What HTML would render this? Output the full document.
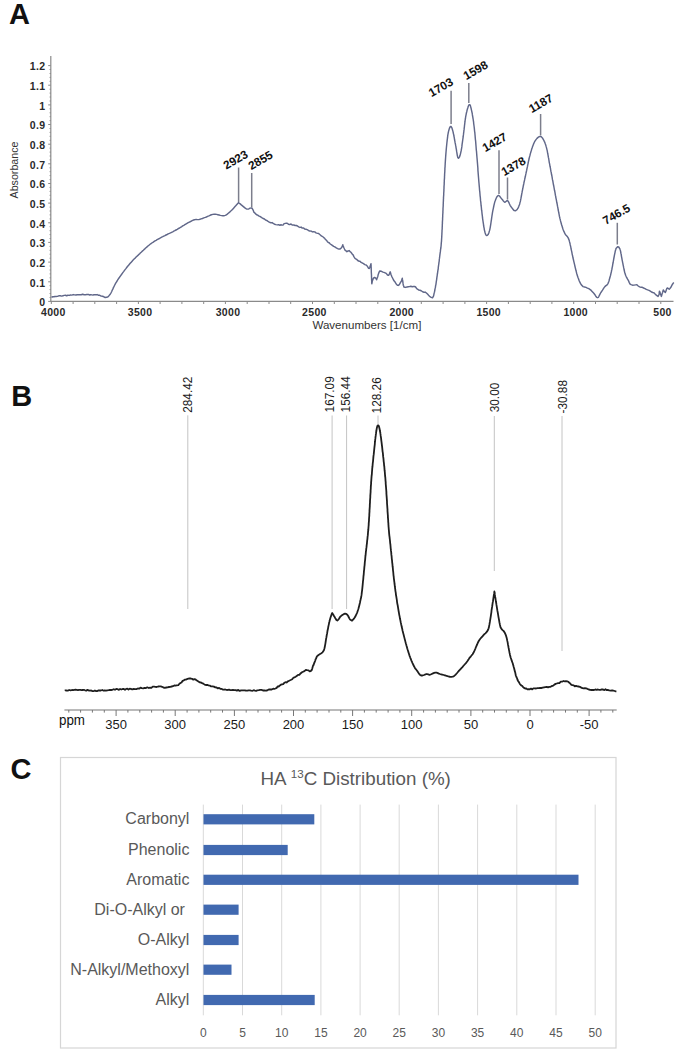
<!DOCTYPE html><html><head><meta charset="utf-8"><style>html,body{margin:0;padding:0;background:#fff;}svg{display:block;}text{font-family:"Liberation Sans",sans-serif;}</style></head><body>
<svg width="685" height="1057" viewBox="0 0 685 1057">
<rect width="685" height="1057" fill="#fff"/>
<text x="9" y="24.2" font-size="29" font-weight="bold" fill="#111">A</text>
<text x="11.2" y="406.3" font-size="29" font-weight="bold" fill="#111">B</text>
<text x="10.6" y="778.6" font-size="29" font-weight="bold" fill="#111">C</text>
<g stroke="#8a8a8a" stroke-width="1.2" fill="none">
<line x1="50.8" y1="56" x2="50.8" y2="301.8"/>
<line x1="50.2" y1="301.4" x2="673.5" y2="301.4"/>
</g>
<g stroke="#8a8a8a" stroke-width="1"><line x1="48.2" y1="301.4" x2="50.8" y2="301.4"/><line x1="49.6" y1="297.5" x2="50.8" y2="297.5"/><line x1="49.6" y1="293.5" x2="50.8" y2="293.5"/><line x1="49.6" y1="289.6" x2="50.8" y2="289.6"/><line x1="49.6" y1="285.7" x2="50.8" y2="285.7"/><line x1="48.2" y1="281.8" x2="50.8" y2="281.8"/><line x1="49.6" y1="277.8" x2="50.8" y2="277.8"/><line x1="49.6" y1="273.9" x2="50.8" y2="273.9"/><line x1="49.6" y1="270.0" x2="50.8" y2="270.0"/><line x1="49.6" y1="266.0" x2="50.8" y2="266.0"/><line x1="48.2" y1="262.1" x2="50.8" y2="262.1"/><line x1="49.6" y1="258.2" x2="50.8" y2="258.2"/><line x1="49.6" y1="254.2" x2="50.8" y2="254.2"/><line x1="49.6" y1="250.3" x2="50.8" y2="250.3"/><line x1="49.6" y1="246.4" x2="50.8" y2="246.4"/><line x1="48.2" y1="242.4" x2="50.8" y2="242.4"/><line x1="49.6" y1="238.5" x2="50.8" y2="238.5"/><line x1="49.6" y1="234.6" x2="50.8" y2="234.6"/><line x1="49.6" y1="230.7" x2="50.8" y2="230.7"/><line x1="49.6" y1="226.7" x2="50.8" y2="226.7"/><line x1="48.2" y1="222.8" x2="50.8" y2="222.8"/><line x1="49.6" y1="218.9" x2="50.8" y2="218.9"/><line x1="49.6" y1="214.9" x2="50.8" y2="214.9"/><line x1="49.6" y1="211.0" x2="50.8" y2="211.0"/><line x1="49.6" y1="207.1" x2="50.8" y2="207.1"/><line x1="48.2" y1="203.1" x2="50.8" y2="203.1"/><line x1="49.6" y1="199.2" x2="50.8" y2="199.2"/><line x1="49.6" y1="195.3" x2="50.8" y2="195.3"/><line x1="49.6" y1="191.4" x2="50.8" y2="191.4"/><line x1="49.6" y1="187.4" x2="50.8" y2="187.4"/><line x1="48.2" y1="183.5" x2="50.8" y2="183.5"/><line x1="49.6" y1="179.6" x2="50.8" y2="179.6"/><line x1="49.6" y1="175.6" x2="50.8" y2="175.6"/><line x1="49.6" y1="171.7" x2="50.8" y2="171.7"/><line x1="49.6" y1="167.8" x2="50.8" y2="167.8"/><line x1="48.2" y1="163.8" x2="50.8" y2="163.8"/><line x1="49.6" y1="159.9" x2="50.8" y2="159.9"/><line x1="49.6" y1="156.0" x2="50.8" y2="156.0"/><line x1="49.6" y1="152.1" x2="50.8" y2="152.1"/><line x1="49.6" y1="148.1" x2="50.8" y2="148.1"/><line x1="48.2" y1="144.2" x2="50.8" y2="144.2"/><line x1="49.6" y1="140.3" x2="50.8" y2="140.3"/><line x1="49.6" y1="136.3" x2="50.8" y2="136.3"/><line x1="49.6" y1="132.4" x2="50.8" y2="132.4"/><line x1="49.6" y1="128.5" x2="50.8" y2="128.5"/><line x1="48.2" y1="124.5" x2="50.8" y2="124.5"/><line x1="49.6" y1="120.6" x2="50.8" y2="120.6"/><line x1="49.6" y1="116.7" x2="50.8" y2="116.7"/><line x1="49.6" y1="112.8" x2="50.8" y2="112.8"/><line x1="49.6" y1="108.8" x2="50.8" y2="108.8"/><line x1="48.2" y1="104.9" x2="50.8" y2="104.9"/><line x1="49.6" y1="101.0" x2="50.8" y2="101.0"/><line x1="49.6" y1="97.0" x2="50.8" y2="97.0"/><line x1="49.6" y1="93.1" x2="50.8" y2="93.1"/><line x1="49.6" y1="89.2" x2="50.8" y2="89.2"/><line x1="48.2" y1="85.2" x2="50.8" y2="85.2"/><line x1="49.6" y1="81.3" x2="50.8" y2="81.3"/><line x1="49.6" y1="77.4" x2="50.8" y2="77.4"/><line x1="49.6" y1="73.5" x2="50.8" y2="73.5"/><line x1="49.6" y1="69.5" x2="50.8" y2="69.5"/><line x1="48.2" y1="65.6" x2="50.8" y2="65.6"/></g>
<g stroke="#8a8a8a" stroke-width="1"><line x1="51.3" y1="301.4" x2="51.3" y2="304"/><line x1="73.1" y1="301.4" x2="73.1" y2="304"/><line x1="94.8" y1="301.4" x2="94.8" y2="304"/><line x1="116.6" y1="301.4" x2="116.6" y2="304"/><line x1="138.4" y1="301.4" x2="138.4" y2="304"/><line x1="160.1" y1="301.4" x2="160.1" y2="304"/><line x1="181.9" y1="301.4" x2="181.9" y2="304"/><line x1="203.7" y1="301.4" x2="203.7" y2="304"/><line x1="225.4" y1="301.4" x2="225.4" y2="304"/><line x1="247.2" y1="301.4" x2="247.2" y2="304"/><line x1="269.0" y1="301.4" x2="269.0" y2="304"/><line x1="290.7" y1="301.4" x2="290.7" y2="304"/><line x1="312.5" y1="301.4" x2="312.5" y2="304"/><line x1="334.3" y1="301.4" x2="334.3" y2="304"/><line x1="356.0" y1="301.4" x2="356.0" y2="304"/><line x1="377.8" y1="301.4" x2="377.8" y2="304"/><line x1="399.6" y1="301.4" x2="399.6" y2="304"/><line x1="421.3" y1="301.4" x2="421.3" y2="304"/><line x1="443.1" y1="301.4" x2="443.1" y2="304"/><line x1="464.9" y1="301.4" x2="464.9" y2="304"/><line x1="486.6" y1="301.4" x2="486.6" y2="304"/><line x1="508.4" y1="301.4" x2="508.4" y2="304"/><line x1="530.2" y1="301.4" x2="530.2" y2="304"/><line x1="551.9" y1="301.4" x2="551.9" y2="304"/><line x1="573.7" y1="301.4" x2="573.7" y2="304"/><line x1="595.5" y1="301.4" x2="595.5" y2="304"/><line x1="617.2" y1="301.4" x2="617.2" y2="304"/><line x1="639.0" y1="301.4" x2="639.0" y2="304"/><line x1="660.8" y1="301.4" x2="660.8" y2="304"/></g>
<g font-size="10.5" font-weight="bold" fill="#2a2a2a"><text x="45.6" y="306.2" text-anchor="end" letter-spacing="0.4">0</text><text x="45.6" y="286.6" text-anchor="end" letter-spacing="0.4">0.1</text><text x="45.6" y="266.9" text-anchor="end" letter-spacing="0.4">0.2</text><text x="45.6" y="247.2" text-anchor="end" letter-spacing="0.4">0.3</text><text x="45.6" y="227.6" text-anchor="end" letter-spacing="0.4">0.4</text><text x="45.6" y="207.9" text-anchor="end" letter-spacing="0.4">0.5</text><text x="45.6" y="188.3" text-anchor="end" letter-spacing="0.4">0.6</text><text x="45.6" y="168.7" text-anchor="end" letter-spacing="0.4">0.7</text><text x="45.6" y="149.0" text-anchor="end" letter-spacing="0.4">0.8</text><text x="45.6" y="129.3" text-anchor="end" letter-spacing="0.4">0.9</text><text x="45.6" y="109.7" text-anchor="end" letter-spacing="0.4">1</text><text x="45.6" y="90.0" text-anchor="end" letter-spacing="0.4">1.1</text><text x="45.6" y="70.4" text-anchor="end" letter-spacing="0.4">1.2</text></g>
<g font-size="10.5" font-weight="bold" fill="#2a2a2a"><text x="53.300000000000004" y="316" text-anchor="middle" letter-spacing="0.3">4000</text><text x="140.1" y="316" text-anchor="middle" letter-spacing="0.3">3500</text><text x="228.0" y="316" text-anchor="middle" letter-spacing="0.3">3000</text><text x="314.4" y="316" text-anchor="middle" letter-spacing="0.3">2500</text><text x="401.7" y="316" text-anchor="middle" letter-spacing="0.3">2000</text><text x="488.7" y="316" text-anchor="middle" letter-spacing="0.3">1500</text><text x="575.7" y="316" text-anchor="middle" letter-spacing="0.3">1000</text><text x="662.5" y="316" text-anchor="middle" letter-spacing="0.3">500</text></g>
<text x="366.9" y="328.5" font-size="10.6" fill="#333" text-anchor="middle" textLength="109" lengthAdjust="spacingAndGlyphs">Wavenumbers [1/cm]</text>
<text transform="translate(18,170) rotate(-90)" font-size="10.5" fill="#333" text-anchor="middle" textLength="57" lengthAdjust="spacingAndGlyphs">Absorbance</text>
<path d="M51.5,297.4 L52.2,297.0 L52.9,296.7 L53.9,296.8 L54.9,296.5 L56.1,296.5 L57.4,296.4 L58.8,295.8 L60.2,295.7 L61.6,296.1 L63.1,295.7 L64.2,295.4 L65.4,295.3 L66.6,295.7 L67.9,295.2 L69.2,295.4 L70.5,295.0 L71.9,295.1 L73.2,294.6 L74.6,294.9 L75.9,295.0 L77.2,294.7 L78.5,294.6 L79.8,294.7 L81.2,294.7 L82.6,294.3 L84.1,294.8 L85.5,294.7 L86.9,294.5 L88.3,294.4 L89.6,295.0 L90.8,294.7 L91.9,294.9 L92.9,295.1 L93.8,294.8 L96.1,294.8 L97.1,294.6 L98.3,295.2 L99.8,295.3 L101.2,296.1 L102.5,296.3 L103.9,296.8 L105.2,297.5 L106.5,297.2 L107.7,297.1 L108.8,295.9 L110.2,294.2 L110.7,293.4 L111.2,292.5 L111.7,291.5 L112.2,290.3 L112.8,289.1 L113.3,287.9 L113.9,286.7 L114.5,285.5 L115.1,284.3 L115.7,283.2 L116.4,282.1 L117.1,281.0 L117.7,279.9 L118.4,278.8 L119.2,277.8 L119.9,276.7 L120.7,275.6 L121.5,274.5 L122.3,273.4 L123.0,272.4 L123.8,271.4 L124.5,270.4 L125.3,269.4 L126.1,268.4 L126.9,267.3 L127.7,266.3 L128.6,265.3 L129.4,264.3 L130.2,263.3 L131.0,262.4 L131.9,261.4 L132.7,260.5 L133.6,259.6 L134.4,258.8 L135.3,257.9 L136.1,257.1 L137.0,256.2 L137.9,255.4 L138.8,254.5 L139.8,253.6 L140.6,252.8 L141.5,252.0 L142.4,251.1 L143.3,250.3 L144.2,249.4 L145.1,248.6 L146.0,247.7 L147.0,246.9 L147.9,246.0 L148.9,245.3 L149.8,244.5 L150.7,243.8 L151.8,243.0 L152.9,242.3 L153.9,241.6 L155.0,240.9 L156.1,240.3 L157.1,239.7 L158.2,239.1 L159.4,238.5 L160.5,237.8 L161.7,237.2 L162.7,236.7 L163.8,236.1 L164.9,235.6 L166.0,235.0 L167.1,234.5 L168.2,233.9 L169.4,233.4 L170.5,232.9 L171.6,232.3 L172.7,231.8 L173.8,231.2 L174.8,230.7 L176.0,230.0 L177.2,229.4 L178.3,228.7 L179.5,228.0 L180.6,227.3 L181.7,226.6 L182.7,225.9 L183.8,225.3 L184.8,224.7 L185.8,224.1 L187.0,223.4 L188.2,222.7 L189.4,222.1 L190.6,221.5 L191.7,220.9 L192.7,220.4 L193.6,220.0 L194.5,219.7 L196.2,219.4 L197.4,219.6 L198.8,219.6 L199.9,219.3 L201.1,218.9 L202.4,218.5 L203.8,217.9 L205.3,217.4 L206.4,217.0 L207.6,216.4 L208.9,215.9 L210.1,215.3 L211.4,214.8 L212.8,214.4 L214.1,214.2 L215.3,214.2 L216.6,214.4 L217.8,214.7 L219.1,215.0 L220.4,215.4 L221.7,215.6 L222.8,215.8 L223.9,215.7 L225.2,215.4 L226.3,214.8 L227.3,214.1 L228.3,213.3 L229.4,212.4 L230.5,211.3 L231.4,210.5 L232.4,209.5 L233.4,208.4 L234.4,207.3 L235.5,206.1 L236.4,205.0 L237.3,204.0 L238.0,203.2 L238.6,202.6 L239.3,203.2 L240.2,203.9 L241.3,204.9 L242.5,205.9 L243.7,206.9 L244.9,207.9 L246.0,208.6 L246.9,209.1 L248.7,209.0 L250.0,208.1 L251.3,208.0 L252.0,208.2 L252.6,209.1 L253.2,210.3 L253.9,212.2 L254.7,212.8 L255.7,213.9 L256.6,214.7 L257.6,215.0 L258.6,215.9 L259.8,216.4 L260.9,217.0 L262.1,217.9 L263.3,218.5 L264.4,219.0 L265.5,220.0 L266.6,220.4 L267.7,221.2 L268.8,221.8 L269.9,222.5 L271.0,222.7 L272.1,222.6 L273.2,223.4 L274.5,224.2 L275.9,224.6 L277.3,224.9 L278.6,224.8 L279.9,225.2 L281.0,224.8 L282.0,225.1 L283.2,225.0 L283.8,223.9 L285.2,223.4 L286.1,223.3 L287.2,223.2 L288.4,224.2 L289.7,224.6 L291.0,224.0 L292.4,225.1 L293.8,225.0 L295.1,225.5 L296.3,225.5 L297.5,226.0 L298.7,226.9 L299.9,227.4 L301.1,227.1 L302.3,228.1 L303.6,228.0 L304.8,229.1 L306.0,229.3 L307.2,229.6 L308.5,230.5 L309.8,231.1 L311.1,231.0 L312.4,231.9 L313.7,231.7 L314.8,231.9 L316.0,232.8 L317.0,233.2 L318.4,233.4 L319.5,234.3 L320.6,235.2 L321.6,236.1 L322.6,236.4 L323.6,237.6 L324.5,238.0 L325.5,239.7 L326.4,240.1 L327.4,241.7 L328.3,242.5 L329.2,242.8 L330.0,243.7 L331.3,244.7 L332.6,245.6 L333.7,246.4 L334.8,246.9 L336.3,247.9 L337.6,248.6 L338.8,249.0 L340.1,249.0 L341.2,248.0 L342.1,246.8 L342.8,244.8 L343.2,246.0 L343.8,247.5 L344.5,249.0 L345.2,250.4 L346.1,250.9 L346.9,251.7 L348.1,251.0 L349.3,250.6 L350.0,251.6 L350.8,252.1 L351.7,253.3 L352.4,254.3 L353.1,254.9 L353.9,256.6 L354.7,257.9 L355.7,258.9 L356.6,259.2 L357.7,260.5 L358.9,261.2 L360.0,261.3 L361.1,262.4 L362.1,262.9 L363.5,263.7 L364.8,264.6 L365.9,264.9 L366.9,265.7 L367.9,267.1 L368.6,268.4 L369.3,268.5 L369.8,267.2 L370.3,265.8 L370.7,264.9 L371.0,263.7 L371.0,264.9 L371.1,265.1 L371.1,266.5 L371.2,267.9 L371.2,269.0 L371.3,270.5 L371.3,272.0 L371.4,273.6 L371.5,275.4 L371.5,276.7 L371.6,278.2 L371.6,280.0 L371.7,280.5 L371.7,282.2 L371.8,283.3 L371.8,283.8 L372.1,282.5 L372.4,280.7 L372.9,279.6 L373.4,278.2 L374.6,277.5 L375.8,278.2 L376.6,279.8 L376.9,278.7 L377.3,277.7 L377.8,276.4 L378.3,274.2 L378.8,272.9 L379.3,271.7 L379.8,271.0 L381.4,271.3 L383.0,272.1 L384.6,272.6 L386.2,273.4 L387.5,275.0 L388.6,275.3 L389.3,274.1 L389.8,272.7 L390.2,271.8 L390.5,272.8 L390.9,274.3 L391.3,275.3 L391.8,276.6 L392.3,277.5 L392.8,278.5 L393.5,280.0 L394.2,281.1 L395.1,282.1 L396.2,284.0 L397.4,285.2 L398.3,285.4 L399.3,284.6 L400.0,283.4 L400.7,282.2 L401.4,281.1 L401.9,279.4 L402.3,278.2 L402.4,279.4 L402.6,280.2 L402.8,281.4 L403.0,283.2 L403.3,285.2 L403.6,285.9 L403.9,287.0 L405.2,287.4 L407.1,287.0 L408.2,286.8 L409.4,286.6 L410.8,286.3 L412.2,286.8 L413.5,286.5 L414.6,286.5 L415.6,287.0 L416.7,288.6 L417.8,289.3 L418.8,290.1 L419.9,290.2 L421.2,290.7 L422.6,291.8 L423.9,292.2 L425.2,292.1 L426.4,293.0 L427.5,294.1 L428.6,295.3 L429.5,296.2 L430.4,296.9 L431.2,297.4 L432.5,297.8 L433.6,295.8 L433.8,294.9 L434.0,293.9 L434.2,292.8 L434.5,292.2 L434.7,290.7 L434.9,290.0 L435.2,288.0 L435.4,287.4 L435.6,285.8 L435.9,284.6 L436.1,283.1 L436.3,281.6 L436.6,279.8 L436.8,278.2 L437.0,276.6 L437.1,276.3 L437.3,274.5 L437.5,273.5 L437.6,272.6 L437.8,271.2 L438.0,269.8 L438.2,269.0 L438.3,267.4 L438.5,265.8 L438.7,264.5 L438.8,263.8 L439.0,262.1 L439.2,261.2 L439.3,259.5 L439.5,258.2 L439.6,257.3 L439.7,256.5 L439.9,254.8 L440.0,254.1 L440.2,252.6 L440.4,251.4 L440.5,250.3 L440.6,249.4 L440.8,248.5 L440.9,247.7 L441.0,246.7 L441.1,245.7 L441.2,244.4 L441.3,242.9 L441.5,241.1 L441.6,238.9 L441.7,238.0 L441.7,237.1 L441.8,236.2 L441.8,235.2 L441.9,234.2 L441.9,233.1 L442.0,232.0 L442.0,230.9 L442.1,229.7 L442.2,228.5 L442.2,227.2 L442.3,226.0 L442.3,224.7 L442.4,223.4 L442.4,222.1 L442.5,220.8 L442.6,219.5 L442.6,218.1 L442.7,216.8 L442.7,215.4 L442.8,214.0 L442.9,212.7 L442.9,211.3 L443.0,210.0 L443.0,208.7 L443.1,207.3 L443.2,206.0 L443.2,204.7 L443.3,203.4 L443.3,202.2 L443.4,200.9 L443.4,199.7 L443.5,198.6 L443.5,197.4 L443.6,196.3 L443.7,194.9 L443.7,193.6 L443.8,192.2 L443.9,190.9 L443.9,189.5 L444.0,188.2 L444.0,186.9 L444.1,185.5 L444.2,184.2 L444.2,182.9 L444.3,181.6 L444.3,180.4 L444.4,179.1 L444.5,177.9 L444.5,176.6 L444.6,175.4 L444.6,174.2 L444.7,173.0 L444.8,171.8 L444.8,170.7 L444.9,169.6 L444.9,168.4 L445.0,167.4 L445.1,166.3 L445.1,165.2 L445.2,164.2 L445.2,163.2 L445.3,162.2 L445.4,160.6 L445.5,159.1 L445.6,157.7 L445.7,156.3 L445.8,154.9 L445.9,153.6 L446.0,152.4 L446.1,151.2 L446.2,150.0 L446.3,148.9 L446.4,147.8 L446.5,146.7 L446.6,145.7 L446.7,144.7 L446.8,143.7 L446.9,142.7 L447.0,141.8 L447.2,140.1 L447.4,138.6 L447.6,137.2 L447.7,135.9 L447.9,134.7 L448.1,133.6 L448.3,132.5 L448.5,131.6 L448.7,130.7 L449.4,128.4 L450.1,126.9 L450.8,126.4 L451.3,126.8 L451.9,127.9 L452.4,129.5 L453.0,131.6 L453.2,132.5 L453.4,133.6 L453.7,134.7 L453.9,136.0 L454.2,137.3 L454.4,138.6 L454.6,140.0 L454.9,141.3 L455.1,142.7 L455.4,144.0 L455.6,145.2 L455.9,146.6 L456.1,148.1 L456.4,149.7 L456.6,151.2 L456.9,152.8 L457.1,154.2 L457.3,155.5 L457.6,156.6 L457.8,157.5 L458.1,158.0 L458.7,158.2 L459.4,157.2 L460.1,155.3 L460.7,152.8 L460.9,151.9 L461.1,151.0 L461.3,149.9 L461.5,148.8 L461.7,147.6 L461.9,146.4 L462.0,145.1 L462.2,143.7 L462.4,142.3 L462.6,140.9 L462.8,139.5 L463.0,138.1 L463.2,136.7 L463.3,135.6 L463.5,134.4 L463.6,133.2 L463.8,132.0 L463.9,130.7 L464.1,129.4 L464.2,128.1 L464.4,126.8 L464.5,125.5 L464.7,124.2 L464.8,123.0 L465.0,121.7 L465.1,120.5 L465.3,119.3 L465.5,118.2 L465.6,117.2 L465.8,116.2 L466.1,114.6 L466.4,113.0 L466.8,111.5 L467.1,110.1 L467.5,108.7 L467.9,107.5 L468.2,106.5 L468.6,105.6 L468.9,105.0 L469.2,104.6 L469.8,104.6 L470.3,105.4 L470.7,106.9 L471.2,108.8 L471.7,111.1 L471.9,112.0 L472.1,112.9 L472.3,113.9 L472.4,114.9 L472.6,116.0 L472.8,117.1 L473.0,118.3 L473.2,119.5 L473.4,120.8 L473.6,122.2 L473.7,123.6 L473.9,125.0 L474.1,126.5 L474.3,128.1 L474.4,129.1 L474.5,130.2 L474.6,131.3 L474.8,132.4 L474.9,133.5 L475.0,134.7 L475.1,135.8 L475.2,137.1 L475.3,138.3 L475.4,139.5 L475.6,140.8 L475.7,142.1 L475.8,143.4 L475.9,144.7 L476.0,146.0 L476.1,147.3 L476.2,148.6 L476.3,150.0 L476.5,151.3 L476.6,152.7 L476.7,154.0 L476.8,155.4 L476.9,156.5 L477.0,157.7 L477.1,158.8 L477.2,160.0 L477.3,161.2 L477.4,162.4 L477.5,163.6 L477.6,164.8 L477.7,166.1 L477.8,167.3 L477.9,168.6 L477.9,169.8 L478.0,171.1 L478.1,172.3 L478.2,173.6 L478.3,174.8 L478.4,176.1 L478.5,177.3 L478.6,178.5 L478.7,179.8 L478.8,181.0 L478.9,182.2 L479.0,183.3 L479.1,184.5 L479.2,185.6 L479.3,186.7 L479.4,187.8 L479.5,189.2 L479.6,190.5 L479.8,191.9 L479.9,193.2 L480.0,194.5 L480.1,195.8 L480.3,197.1 L480.4,198.4 L480.5,199.7 L480.6,200.9 L480.8,202.1 L480.9,203.3 L481.0,204.5 L481.1,205.7 L481.3,206.8 L481.4,208.0 L481.5,209.1 L481.6,210.2 L481.8,211.2 L481.9,212.3 L482.0,213.3 L482.2,214.8 L482.4,216.3 L482.5,217.7 L482.7,219.1 L482.9,220.5 L483.1,221.8 L483.3,223.1 L483.5,224.4 L483.6,225.5 L483.8,226.6 L484.0,227.7 L484.2,228.7 L484.3,229.6 L484.5,230.4 L485.1,232.8 L485.6,234.3 L486.1,235.2 L486.7,235.5 L487.4,235.3 L488.1,234.6 L488.8,233.0 L489.6,230.4 L489.8,229.6 L490.0,228.6 L490.2,227.6 L490.4,226.4 L490.6,225.2 L490.8,223.9 L491.0,222.5 L491.2,221.2 L491.4,219.8 L491.6,218.4 L491.8,217.0 L492.0,215.6 L492.2,214.3 L492.4,213.1 L492.6,211.9 L492.8,210.9 L493.0,209.9 L493.4,208.1 L493.7,206.5 L494.0,205.1 L494.3,203.8 L494.6,202.6 L494.9,201.6 L495.3,200.6 L495.6,199.7 L496.3,198.0 L497.0,196.7 L497.8,195.8 L498.5,195.4 L499.5,196.0 L500.5,197.4 L501.6,198.8 L502.5,199.8 L503.3,200.9 L504.2,201.8 L505.0,202.3 L506.3,201.2 L507.5,200.5 L508.1,201.2 L508.8,202.4 L509.4,203.8 L510.1,205.3 L510.9,206.5 L511.7,207.6 L512.6,208.8 L513.4,209.9 L514.3,210.6 L515.2,210.8 L515.9,210.5 L516.6,210.0 L517.3,209.2 L518.0,208.1 L518.7,206.6 L519.4,204.8 L519.7,203.9 L519.9,202.9 L520.2,201.9 L520.5,200.7 L520.7,199.5 L521.0,198.2 L521.2,196.8 L521.5,195.5 L521.7,194.1 L522.0,192.7 L522.2,191.4 L522.5,190.1 L522.7,188.8 L523.0,187.6 L523.2,186.4 L523.5,185.0 L523.8,183.7 L524.0,182.4 L524.3,181.2 L524.6,179.9 L524.8,178.7 L525.1,177.5 L525.4,176.3 L525.6,175.1 L525.9,173.9 L526.1,172.7 L526.4,171.5 L526.7,170.2 L526.9,169.0 L527.2,167.7 L527.5,166.4 L527.7,165.1 L528.0,163.8 L528.3,162.5 L528.5,161.2 L528.8,160.0 L529.1,158.8 L529.3,157.7 L529.6,156.6 L530.0,155.2 L530.3,153.9 L530.7,152.6 L531.0,151.4 L531.4,150.2 L531.7,149.1 L532.1,148.0 L532.4,147.0 L532.8,146.0 L533.4,144.4 L534.0,143.0 L534.6,141.7 L535.3,140.6 L536.0,139.6 L537.0,138.4 L538.1,137.4 L539.2,136.7 L540.2,136.4 L541.3,136.8 L542.4,137.9 L543.4,139.6 L543.9,140.5 L544.3,141.4 L544.8,142.4 L545.2,143.6 L545.7,144.9 L546.1,146.4 L546.6,148.1 L546.8,149.1 L547.1,150.1 L547.3,151.2 L547.5,152.3 L547.7,153.5 L548.0,154.8 L548.2,156.1 L548.4,157.4 L548.7,158.7 L548.9,160.0 L549.1,161.3 L549.3,162.6 L549.6,163.9 L549.8,165.1 L550.0,166.3 L550.3,167.5 L550.5,168.7 L550.7,170.0 L550.9,171.2 L551.2,172.4 L551.4,173.6 L551.6,174.8 L551.9,176.0 L552.1,177.2 L552.3,178.5 L552.5,179.7 L552.8,180.9 L553.0,182.1 L553.2,183.3 L553.4,184.5 L553.7,185.7 L553.9,186.8 L554.1,188.0 L554.3,189.2 L554.5,190.3 L554.8,191.5 L555.0,192.7 L555.2,193.9 L555.4,195.2 L555.7,196.4 L555.9,197.8 L556.2,199.1 L556.4,200.2 L556.6,201.3 L556.8,202.5 L557.1,203.7 L557.3,204.9 L557.5,206.2 L557.8,207.5 L558.0,208.7 L558.2,210.0 L558.5,211.3 L558.7,212.5 L559.0,213.8 L559.2,215.0 L559.4,216.2 L559.7,217.3 L559.9,218.4 L560.2,219.4 L560.4,220.4 L560.8,221.9 L561.2,223.3 L561.6,224.7 L562.0,225.9 L562.4,227.2 L562.7,228.3 L563.1,229.4 L563.5,230.4 L563.9,231.4 L564.3,232.3 L564.7,233.2 L565.4,234.5 L566.1,235.3 L566.8,236.0 L567.5,236.8 L568.2,237.9 L568.9,239.6 L569.2,240.4 L569.4,241.4 L569.7,242.4 L570.0,243.5 L570.2,244.7 L570.5,245.9 L570.8,247.2 L571.0,248.5 L571.3,249.8 L571.6,251.1 L571.9,252.5 L572.1,253.8 L572.4,255.1 L572.7,256.3 L572.9,257.5 L573.2,258.7 L573.5,260.0 L573.8,261.3 L574.1,262.6 L574.4,263.9 L574.7,265.2 L575.0,266.5 L575.3,267.8 L575.6,269.0 L575.9,270.3 L576.2,271.4 L576.5,272.6 L576.8,273.7 L577.1,274.7 L577.4,275.7 L577.9,277.3 L578.5,278.8 L579.0,280.2 L579.5,281.4 L580.1,282.6 L580.6,283.6 L581.2,284.5 L581.7,285.3 L583.1,286.6 L584.6,287.0 L586.0,287.4 L587.4,288.1 L588.8,288.7 L590.2,289.6 L591.2,290.4 L592.1,291.4 L593.1,292.5 L594.0,293.5 L594.9,294.7 L595.8,296.2 L596.7,297.3 L597.6,297.7 L598.3,297.3 L598.9,296.3 L599.5,295.1 L600.2,293.7 L600.9,292.5 L601.7,291.3 L602.5,290.1 L603.3,288.8 L604.1,287.6 L604.9,286.6 L606.0,285.6 L607.1,284.9 L608.1,283.3 L608.4,282.5 L608.8,281.5 L609.1,280.5 L609.4,279.3 L609.8,278.1 L610.1,276.8 L610.5,275.5 L610.8,274.2 L611.1,272.8 L611.4,271.5 L611.6,270.4 L611.9,269.2 L612.1,267.9 L612.4,266.6 L612.6,265.3 L612.8,264.0 L613.1,262.8 L613.3,261.5 L613.5,260.3 L613.7,259.1 L613.9,258.0 L614.1,257.0 L614.4,255.4 L614.7,253.9 L615.0,252.6 L615.2,251.4 L615.5,250.3 L615.8,249.3 L616.0,248.5 L617.6,246.8 L618.7,247.0 L620.0,249.1 L620.2,249.9 L620.5,250.9 L620.7,252.0 L620.9,253.2 L621.2,254.4 L621.4,255.8 L621.6,257.1 L621.9,258.5 L622.1,259.8 L622.4,261.1 L622.6,262.3 L622.9,263.6 L623.1,264.8 L623.4,266.1 L623.6,267.4 L623.9,268.6 L624.1,269.8 L624.4,271.0 L624.6,272.1 L624.9,273.1 L625.2,274.1 L625.7,275.5 L626.3,276.8 L626.9,277.9 L627.4,278.9 L628.0,279.8 L628.5,280.7 L629.3,282.6 L630.1,284.1 L631.1,284.6 L632.5,285.2 L634.0,285.1 L635.7,284.9 L636.9,284.8 L638.2,286.0 L639.6,286.9 L641.0,287.2 L642.3,287.3 L643.6,288.0 L645.0,288.6 L646.3,289.4 L647.6,289.9 L649.0,290.4 L650.3,291.1 L651.5,292.0 L652.8,292.5 L653.9,292.8 L655.1,294.0 L656.3,295.1 L657.3,295.8 L658.1,296.4 L658.7,295.2 L659.1,294.5 L659.3,292.7 L659.4,291.2 L659.8,291.8 L660.4,293.8 L661.0,295.2 L661.4,296.4 L661.7,295.2 L662.1,293.8 L662.6,292.5 L663.0,291.0 L663.3,289.9 L664.2,291.3 L665.3,292.5 L665.8,291.4 L666.3,290.1 L666.8,288.4 L667.3,287.9 L669.2,289.2 L669.9,288.5 L670.7,287.6 L671.6,285.9 L672.5,284.2 L673.3,283.1 L673.8,282.6" fill="none" stroke="#606789" stroke-width="1.45" stroke-linejoin="round"/>
<g stroke="#7c7e8c" stroke-width="1.5"><line x1="238.6" y1="167.5" x2="238.6" y2="202"/><line x1="251.7" y1="173" x2="251.7" y2="207.5"/><line x1="451.1" y1="90.7" x2="451.1" y2="124"/><line x1="468.8" y1="83" x2="468.8" y2="103"/><line x1="499" y1="150.3" x2="499" y2="194"/><line x1="507.5" y1="177.5" x2="507.5" y2="199.5"/><line x1="540.6" y1="114" x2="540.6" y2="135.5"/><line x1="617.3" y1="222.8" x2="617.3" y2="244.5"/></g>
<g font-size="11.7" font-weight="bold" fill="#111"><text transform="translate(226.3,169.8) rotate(-30)">2923</text><text transform="translate(251.2,170.3) rotate(-30)">2855</text><text transform="translate(431.6,97.2) rotate(-30)">1703</text><text transform="translate(466.3,80.2) rotate(-30)">1598</text><text transform="translate(485.3,152.3) rotate(-30)">1427</text><text transform="translate(504.2,176.3) rotate(-30)">1378</text><text transform="translate(531.8,113.2) rotate(-30)">1187</text><text transform="translate(605.8,225.0) rotate(-30)">746.5</text></g>
<g stroke="#c4c4c4" stroke-width="1"><line x1="187.8" y1="415.3" x2="187.8" y2="609"/><line x1="332.1" y1="415.5" x2="332.1" y2="609"/><line x1="346.6" y1="415.5" x2="346.6" y2="609"/><line x1="378" y1="415.5" x2="378" y2="424.5"/><line x1="494.3" y1="416" x2="494.3" y2="571"/><line x1="562" y1="416" x2="562" y2="651"/></g>
<g font-size="13.6" fill="#1a1a1a"><text transform="translate(191.7,412.8) rotate(-90) scale(0.87,1)">284.42</text><text transform="translate(333.5,412.4) rotate(-90) scale(0.87,1)">167.09</text><text transform="translate(349.8,412.4) rotate(-90) scale(0.87,1)">156.44</text><text transform="translate(381.0,413.4) rotate(-90) scale(0.87,1)">128.26</text><text transform="translate(498.7,412.3) rotate(-90) scale(0.87,1)">30.00</text><text transform="translate(566.6,413.5) rotate(-90) scale(0.87,1)">-30.88</text></g>
<line x1="64.4" y1="710" x2="616.7" y2="710" stroke="#777" stroke-width="1.2"/>
<g stroke="#777" stroke-width="1"><line x1="68.8" y1="710" x2="68.8" y2="712.6"/><line x1="80.6" y1="710" x2="80.6" y2="712.6"/><line x1="92.4" y1="710" x2="92.4" y2="712.6"/><line x1="104.3" y1="710" x2="104.3" y2="712.6"/><line x1="116.1" y1="710" x2="116.1" y2="716"/><line x1="127.9" y1="710" x2="127.9" y2="712.6"/><line x1="139.8" y1="710" x2="139.8" y2="712.6"/><line x1="151.6" y1="710" x2="151.6" y2="712.6"/><line x1="163.4" y1="710" x2="163.4" y2="712.6"/><line x1="175.2" y1="710" x2="175.2" y2="716"/><line x1="187.1" y1="710" x2="187.1" y2="712.6"/><line x1="198.9" y1="710" x2="198.9" y2="712.6"/><line x1="210.7" y1="710" x2="210.7" y2="712.6"/><line x1="222.5" y1="710" x2="222.5" y2="712.6"/><line x1="234.4" y1="710" x2="234.4" y2="716"/><line x1="246.2" y1="710" x2="246.2" y2="712.6"/><line x1="258.0" y1="710" x2="258.0" y2="712.6"/><line x1="269.8" y1="710" x2="269.8" y2="712.6"/><line x1="281.6" y1="710" x2="281.6" y2="712.6"/><line x1="293.5" y1="710" x2="293.5" y2="716"/><line x1="305.3" y1="710" x2="305.3" y2="712.6"/><line x1="317.1" y1="710" x2="317.1" y2="712.6"/><line x1="329.0" y1="710" x2="329.0" y2="712.6"/><line x1="340.8" y1="710" x2="340.8" y2="712.6"/><line x1="352.6" y1="710" x2="352.6" y2="716"/><line x1="364.4" y1="710" x2="364.4" y2="712.6"/><line x1="376.2" y1="710" x2="376.2" y2="712.6"/><line x1="388.1" y1="710" x2="388.1" y2="712.6"/><line x1="399.9" y1="710" x2="399.9" y2="712.6"/><line x1="411.7" y1="710" x2="411.7" y2="716"/><line x1="423.6" y1="710" x2="423.6" y2="712.6"/><line x1="435.4" y1="710" x2="435.4" y2="712.6"/><line x1="447.2" y1="710" x2="447.2" y2="712.6"/><line x1="459.0" y1="710" x2="459.0" y2="712.6"/><line x1="470.9" y1="710" x2="470.9" y2="716"/><line x1="482.7" y1="710" x2="482.7" y2="712.6"/><line x1="494.5" y1="710" x2="494.5" y2="712.6"/><line x1="506.3" y1="710" x2="506.3" y2="712.6"/><line x1="518.1" y1="710" x2="518.1" y2="712.6"/><line x1="530.0" y1="710" x2="530.0" y2="716"/><line x1="541.8" y1="710" x2="541.8" y2="712.6"/><line x1="553.6" y1="710" x2="553.6" y2="712.6"/><line x1="565.5" y1="710" x2="565.5" y2="712.6"/><line x1="577.3" y1="710" x2="577.3" y2="712.6"/><line x1="589.1" y1="710" x2="589.1" y2="716"/><line x1="600.9" y1="710" x2="600.9" y2="712.6"/><line x1="612.8" y1="710" x2="612.8" y2="712.6"/></g>
<g font-size="13" fill="#1a1a1a"><text x="116.1" y="728.5" text-anchor="middle">350</text><text x="175.2" y="728.5" text-anchor="middle">300</text><text x="234.4" y="728.5" text-anchor="middle">250</text><text x="293.5" y="728.5" text-anchor="middle">200</text><text x="352.6" y="728.5" text-anchor="middle">150</text><text x="411.7" y="728.5" text-anchor="middle">100</text><text x="470.9" y="728.5" text-anchor="middle">50</text><text x="530.0" y="728.5" text-anchor="middle">0</text><text x="589.1" y="728.5" text-anchor="middle">-50</text></g>
<text x="59" y="724.8" font-size="14" fill="#111" textLength="26" lengthAdjust="spacingAndGlyphs">ppm</text>
<path d="M64.7,690.5 L65.5,690.3 L66.6,690.5 L67.8,690.6 L69.2,690.0 L70.6,690.4 L72.0,690.0 L73.1,690.1 L74.3,689.8 L75.5,689.7 L76.7,689.9 L77.9,690.1 L79.1,689.8 L80.4,689.9 L81.5,690.2 L82.7,690.0 L83.9,689.8 L85.0,690.3 L86.3,690.6 L87.5,689.9 L88.7,690.5 L90.0,690.6 L91.2,690.5 L92.4,691.1 L93.6,691.2 L94.9,690.5 L96.1,691.1 L97.4,691.0 L98.6,690.3 L99.8,690.5 L100.9,690.5 L102.3,690.0 L103.6,690.7 L104.8,690.4 L106.0,690.6 L107.3,690.3 L108.6,690.1 L110.0,689.8 L111.2,690.0 L112.4,689.8 L113.7,689.2 L115.0,689.8 L116.3,689.0 L117.6,689.2 L118.9,689.9 L120.1,689.0 L121.3,689.5 L122.6,689.0 L123.8,688.9 L125.0,689.8 L126.2,688.9 L127.4,688.7 L128.5,689.6 L129.8,688.6 L131.0,689.0 L132.3,689.3 L133.7,689.0 L135.0,689.1 L136.4,689.1 L137.8,688.5 L139.2,688.7 L140.5,687.6 L141.7,688.1 L143.2,688.3 L144.7,687.9 L146.0,688.1 L147.3,687.3 L148.7,688.0 L150.0,687.6 L151.4,687.9 L152.7,686.7 L154.1,686.7 L155.4,686.8 L156.7,687.0 L158.1,686.5 L159.4,686.3 L160.8,686.4 L162.1,686.8 L163.4,687.5 L164.8,687.8 L166.3,687.5 L167.5,687.3 L168.9,687.0 L170.3,686.8 L171.7,686.5 L173.0,686.2 L174.3,685.5 L175.5,685.7 L176.5,685.4 L178.3,685.2 L179.4,683.8 L180.5,683.0 L181.5,682.5 L182.5,680.9 L183.5,680.6 L184.7,679.7 L185.8,679.6 L187.0,679.1 L188.3,678.7 L189.5,678.5 L190.8,678.5 L192.1,678.9 L193.3,679.6 L194.6,679.2 L195.8,679.7 L196.9,680.6 L198.4,681.5 L199.6,682.3 L201.0,682.5 L202.1,683.1 L203.3,683.6 L204.6,684.6 L206.3,685.0 L207.3,684.9 L208.5,685.3 L209.8,685.6 L211.1,686.4 L212.5,686.3 L213.9,686.6 L215.3,687.4 L216.6,687.5 L217.9,688.4 L219.1,687.9 L220.3,688.8 L221.4,688.8 L222.7,689.6 L224.0,689.6 L225.3,689.5 L226.8,690.0 L227.9,689.8 L229.1,689.6 L230.4,690.2 L231.6,690.1 L232.9,689.9 L234.2,690.1 L235.6,690.1 L236.9,690.6 L238.3,689.9 L239.7,690.9 L241.1,690.3 L242.3,690.3 L243.5,690.4 L244.8,690.3 L246.0,690.7 L247.3,690.7 L248.6,690.4 L249.9,690.3 L251.2,690.6 L252.5,690.8 L253.7,690.2 L255.0,690.6 L256.2,690.9 L257.4,690.3 L258.8,690.2 L260.2,689.9 L261.6,689.9 L263.0,690.5 L264.4,690.4 L265.7,690.7 L267.0,690.5 L268.3,689.7 L269.5,689.5 L270.6,689.4 L271.7,689.5 L273.2,688.7 L274.4,688.8 L275.5,688.5 L276.6,687.9 L277.6,686.4 L278.7,686.5 L279.9,685.4 L280.9,684.7 L282.0,684.3 L283.2,684.1 L284.3,682.8 L285.5,682.2 L286.6,682.5 L287.8,681.3 L289.0,680.8 L290.1,680.3 L291.1,679.8 L292.2,679.2 L293.4,677.7 L294.5,677.4 L295.6,676.8 L296.7,676.1 L297.7,675.1 L298.6,674.9 L299.5,674.8 L300.2,673.8 L302.0,672.3 L303.1,671.7 L304.4,671.1 L305.8,670.0 L307.2,670.2 L308.5,670.3 L309.7,671.4 L310.7,671.2 L311.3,670.1 L311.7,670.1 L312.2,668.8 L312.8,666.6 L313.2,665.2 L313.6,665.1 L314.1,663.2 L314.6,662.3 L315.1,661.0 L315.6,659.2 L316.1,658.4 L316.5,657.4 L316.9,656.4 L318.2,655.3 L319.4,654.4 L320.4,653.8 L321.5,653.2 L322.5,652.3 L323.2,651.4 L323.9,650.2 L324.5,648.2 L324.7,647.3 L324.9,646.3 L325.1,645.2 L325.3,644.1 L325.5,642.8 L325.7,641.5 L325.9,640.1 L326.1,638.8 L326.4,637.4 L326.6,636.0 L326.8,634.8 L327.1,633.5 L327.3,632.2 L327.5,630.8 L327.8,629.5 L328.1,628.1 L328.3,626.7 L328.6,625.4 L328.9,624.1 L329.1,622.8 L329.4,621.7 L329.6,620.7 L330.1,618.9 L330.6,617.3 L331.1,615.9 L331.5,614.7 L331.9,613.7 L332.2,613.0 L332.6,613.8 L333.3,614.8 L334.0,616.0 L334.7,617.1 L335.5,618.6 L336.4,620.0 L337.3,620.5 L338.1,619.9 L339.0,618.7 L339.9,617.2 L340.9,616.1 L342.3,615.0 L343.7,614.2 L345.0,613.7 L346.3,613.9 L347.5,615.0 L348.2,616.0 L348.8,617.3 L349.5,618.6 L350.1,619.6 L351.9,620.7 L352.7,620.0 L353.7,618.9 L354.7,617.5 L355.6,616.0 L356.1,614.9 L356.7,613.7 L357.2,612.5 L357.6,611.2 L358.1,609.8 L358.5,608.5 L358.8,607.3 L359.1,606.2 L359.4,605.0 L359.7,603.8 L360.0,602.5 L360.2,601.3 L360.5,600.0 L360.7,599.0 L360.9,598.2 L361.1,597.5 L361.2,596.7 L361.4,595.7 L361.6,594.4 L361.8,592.6 L362.1,590.3 L362.2,589.5 L362.3,588.6 L362.4,587.7 L362.5,586.7 L362.6,585.6 L362.7,584.6 L362.8,583.4 L362.9,582.3 L363.0,581.1 L363.2,579.8 L363.3,578.6 L363.4,577.3 L363.5,576.0 L363.7,574.6 L363.8,573.3 L363.9,572.0 L364.0,570.6 L364.2,569.3 L364.3,567.9 L364.4,566.6 L364.6,565.3 L364.7,563.9 L364.8,562.6 L364.9,561.4 L365.1,560.1 L365.2,558.9 L365.3,557.7 L365.4,556.4 L365.6,555.2 L365.7,554.0 L365.8,552.9 L365.9,551.7 L366.1,550.6 L366.2,549.4 L366.3,548.3 L366.5,547.2 L366.6,546.1 L366.7,544.9 L366.9,543.8 L367.0,542.7 L367.1,541.5 L367.2,540.3 L367.4,539.2 L367.5,537.9 L367.6,536.7 L367.8,535.4 L367.9,534.1 L368.0,532.8 L368.1,531.4 L368.3,530.0 L368.4,528.5 L368.5,527.0 L368.6,526.0 L368.7,524.9 L368.7,523.8 L368.8,522.7 L368.9,521.5 L369.0,520.4 L369.0,519.2 L369.1,518.0 L369.2,516.7 L369.3,515.5 L369.3,514.2 L369.4,513.0 L369.5,511.7 L369.5,510.4 L369.6,509.1 L369.7,507.7 L369.8,506.4 L369.8,505.1 L369.9,503.8 L370.0,502.4 L370.0,501.1 L370.1,499.8 L370.2,498.5 L370.3,497.2 L370.3,495.8 L370.4,494.6 L370.5,493.3 L370.6,492.0 L370.6,490.7 L370.7,489.5 L370.8,488.3 L370.8,487.1 L370.9,485.9 L371.0,484.7 L371.1,483.6 L371.1,482.4 L371.2,481.4 L371.3,480.3 L371.4,478.8 L371.5,477.4 L371.6,476.0 L371.8,474.6 L371.9,473.2 L372.0,471.8 L372.1,470.5 L372.2,469.1 L372.3,467.8 L372.5,466.5 L372.6,465.3 L372.7,464.0 L372.8,462.8 L373.0,461.6 L373.1,460.4 L373.2,459.2 L373.3,458.1 L373.4,456.9 L373.5,455.8 L373.7,454.7 L373.8,453.7 L373.9,452.6 L374.0,451.6 L374.1,450.6 L374.2,449.6 L374.3,448.6 L374.4,447.7 L374.6,445.9 L374.8,444.3 L374.9,442.7 L375.1,441.2 L375.2,439.7 L375.4,438.4 L375.5,437.1 L375.7,435.9 L375.8,434.8 L376.0,433.7 L376.1,432.7 L376.2,431.7 L376.4,430.8 L376.5,430.0 L376.9,427.7 L377.3,426.2 L377.7,425.5 L378.1,425.3 L378.5,425.5 L378.9,426.3 L379.3,427.7 L379.8,430.0 L379.9,430.8 L380.1,431.7 L380.3,432.7 L380.4,433.7 L380.6,434.8 L380.7,435.9 L380.9,437.1 L381.1,438.4 L381.2,439.7 L381.4,441.2 L381.6,442.7 L381.8,444.3 L382.0,445.9 L382.2,447.7 L382.3,448.6 L382.4,449.6 L382.5,450.6 L382.6,451.6 L382.8,452.6 L382.9,453.7 L383.0,454.7 L383.1,455.8 L383.2,456.9 L383.4,458.1 L383.5,459.2 L383.6,460.4 L383.7,461.6 L383.9,462.8 L384.0,464.0 L384.1,465.3 L384.3,466.5 L384.4,467.8 L384.5,469.1 L384.6,470.5 L384.8,471.8 L384.9,473.2 L385.0,474.6 L385.1,476.0 L385.3,477.4 L385.4,478.8 L385.5,480.3 L385.6,481.3 L385.7,482.4 L385.7,483.5 L385.8,484.7 L385.9,485.8 L386.0,487.0 L386.1,488.3 L386.2,489.5 L386.3,490.8 L386.4,492.1 L386.4,493.4 L386.5,494.7 L386.6,496.1 L386.7,497.4 L386.8,498.8 L386.9,500.1 L387.0,501.5 L387.0,502.8 L387.1,504.2 L387.2,505.5 L387.3,506.9 L387.4,508.2 L387.5,509.5 L387.5,510.9 L387.6,512.1 L387.7,513.4 L387.8,514.7 L387.9,515.9 L387.9,517.1 L388.0,518.2 L388.1,519.4 L388.2,520.5 L388.2,521.5 L388.3,522.6 L388.4,523.5 L388.4,524.5 L388.5,525.4 L388.5,526.2 L388.6,527.0 L388.8,529.6 L389.0,531.6 L389.1,533.1 L389.2,534.2 L389.3,535.1 L389.4,535.8 L389.5,536.6 L389.6,537.4 L389.7,538.5 L389.9,540.0 L390.0,541.0 L390.1,542.1 L390.2,543.3 L390.4,544.5 L390.5,545.7 L390.6,547.0 L390.7,548.3 L390.9,549.6 L391.0,550.9 L391.2,552.2 L391.3,553.6 L391.4,554.9 L391.6,556.2 L391.7,557.5 L391.8,558.8 L392.0,560.1 L392.1,561.3 L392.2,562.6 L392.4,563.9 L392.5,565.2 L392.6,566.5 L392.8,567.7 L392.9,569.0 L393.0,570.3 L393.2,571.6 L393.3,572.8 L393.4,574.0 L393.5,575.3 L393.7,576.5 L393.8,577.7 L393.9,578.8 L394.1,580.0 L394.2,581.1 L394.4,582.4 L394.5,583.7 L394.7,585.0 L394.8,586.2 L395.0,587.3 L395.1,588.5 L395.3,589.6 L395.4,590.8 L395.6,591.9 L395.8,593.1 L395.9,594.3 L396.1,595.5 L396.3,596.7 L396.5,597.9 L396.7,599.1 L396.9,600.3 L397.0,601.6 L397.2,602.8 L397.4,604.1 L397.7,605.3 L397.9,606.6 L398.1,607.8 L398.3,609.1 L398.5,610.3 L398.7,611.5 L398.9,612.7 L399.1,613.8 L399.3,615.1 L399.6,616.3 L399.8,617.6 L400.0,618.8 L400.3,619.9 L400.5,621.1 L400.7,622.2 L401.0,623.4 L401.2,624.5 L401.5,625.7 L401.7,626.8 L402.0,628.0 L402.3,629.2 L402.5,630.4 L402.8,631.5 L403.1,632.7 L403.4,633.9 L403.7,635.0 L404.0,636.2 L404.3,637.4 L404.6,638.6 L404.9,639.7 L405.2,640.9 L405.5,642.1 L405.8,643.3 L406.2,644.5 L406.5,645.7 L406.9,647.0 L407.2,648.2 L407.6,649.5 L408.0,650.7 L408.3,651.9 L408.7,653.0 L409.1,654.2 L409.4,655.3 L409.8,656.3 L410.3,657.8 L410.9,659.2 L411.4,660.6 L412.0,661.9 L412.5,663.1 L413.0,664.2 L413.5,665.3 L414.0,666.2 L414.8,667.7 L415.4,668.7 L416.1,669.5 L416.9,670.5 L417.6,671.6 L418.4,672.8 L419.2,673.9 L420.1,674.9 L421.1,675.5 L422.5,675.5 L424.0,675.0 L425.5,674.4 L426.8,674.0 L428.2,674.4 L429.6,674.8 L430.6,674.5 L431.7,674.0 L433.0,673.4 L434.2,672.9 L435.3,672.6 L436.6,672.7 L437.8,673.1 L438.9,673.6 L440.0,674.0 L441.1,674.3 L442.2,674.6 L443.8,675.0 L444.8,675.3 L446.0,675.7 L447.3,676.1 L448.7,676.5 L450.1,676.8 L451.4,676.9 L452.6,676.7 L453.6,676.3 L454.5,675.7 L455.4,674.9 L456.2,674.0 L457.1,673.0 L457.9,672.0 L458.7,671.0 L459.6,670.1 L460.5,669.2 L461.4,668.1 L462.4,667.1 L463.3,666.0 L464.2,665.0 L465.1,664.0 L465.9,663.1 L466.6,662.2 L467.7,660.8 L468.5,659.6 L469.2,658.4 L470.0,657.3 L470.9,656.3 L471.7,655.3 L472.6,654.2 L473.6,652.6 L474.0,651.7 L474.5,650.7 L475.0,649.5 L475.5,648.3 L476.0,647.0 L476.5,645.8 L477.1,644.5 L477.6,643.3 L478.1,642.2 L478.6,641.3 L479.4,640.0 L480.3,638.8 L481.1,637.8 L481.9,637.0 L482.7,636.1 L483.5,635.2 L484.4,634.2 L485.4,633.3 L486.3,632.4 L487.1,631.4 L487.8,630.3 L488.2,629.3 L488.6,628.3 L488.9,627.3 L489.1,626.1 L489.4,624.7 L489.7,622.9 L489.9,621.9 L490.0,620.9 L490.2,619.8 L490.4,618.6 L490.6,617.3 L490.8,616.1 L491.0,614.7 L491.2,613.4 L491.4,612.1 L491.5,610.7 L491.7,609.4 L491.9,608.1 L492.1,606.9 L492.3,605.5 L492.5,604.1 L492.7,602.6 L493.0,601.2 L493.2,599.7 L493.4,598.2 L493.6,596.8 L493.8,595.5 L494.0,594.3 L494.2,593.2 L494.3,592.2 L494.4,591.5 L494.5,592.3 L494.7,593.2 L494.8,594.4 L495.0,595.6 L495.2,597.0 L495.5,598.5 L495.7,600.0 L495.9,601.5 L496.2,603.0 L496.4,604.4 L496.6,605.6 L496.8,606.8 L497.0,608.1 L497.2,609.4 L497.4,610.7 L497.7,612.1 L497.9,613.4 L498.1,614.7 L498.3,615.9 L498.5,617.1 L498.7,618.2 L498.9,619.2 L499.2,620.8 L499.4,622.2 L499.7,623.5 L499.9,624.7 L500.2,625.8 L500.4,626.9 L500.8,627.8 L501.6,629.1 L502.6,630.1 L503.5,630.9 L504.4,632.1 L504.9,633.0 L505.3,633.8 L505.7,634.8 L506.1,635.9 L506.5,637.2 L506.9,638.9 L507.1,639.8 L507.3,640.9 L507.6,642.1 L507.8,643.3 L508.0,644.7 L508.3,646.0 L508.5,647.4 L508.8,648.8 L509.0,650.1 L509.3,651.4 L509.5,652.7 L509.8,653.8 L510.0,654.9 L510.4,656.4 L510.7,657.7 L511.1,658.8 L511.5,659.9 L511.8,660.9 L512.2,662.0 L512.7,663.3 L513.1,664.7 L513.4,665.8 L513.7,667.0 L514.1,668.2 L514.4,669.5 L514.7,670.9 L515.1,672.0 L515.5,673.9 L515.8,675.5 L516.2,676.4 L516.6,677.4 L517.0,678.0 L517.4,679.5 L518.1,681.0 L518.9,682.1 L519.7,683.7 L520.5,684.7 L521.3,685.5 L522.1,685.8 L522.9,686.9 L524.0,687.9 L525.1,688.5 L526.2,688.3 L527.4,689.4 L528.8,689.1 L529.9,689.3 L531.0,688.6 L532.2,689.4 L533.4,688.3 L534.7,688.3 L536.1,688.5 L537.5,688.1 L538.7,688.1 L540.0,688.0 L541.3,688.0 L542.7,687.7 L544.0,687.4 L545.4,687.1 L546.7,686.8 L548.0,687.4 L549.2,686.9 L550.6,686.8 L551.9,686.0 L553.2,685.7 L554.4,684.6 L555.6,683.9 L556.8,683.5 L558.0,683.2 L559.4,683.1 L560.8,681.6 L562.1,681.7 L563.5,681.0 L564.8,681.4 L566.0,681.1 L567.2,681.3 L568.2,681.8 L569.3,682.7 L570.3,683.7 L571.4,684.8 L572.6,685.1 L573.7,685.4 L574.8,686.3 L576.0,685.8 L577.3,686.4 L578.5,686.5 L579.9,686.8 L581.3,687.6 L582.5,688.2 L583.6,688.4 L584.9,688.1 L586.1,688.3 L587.4,688.9 L588.8,689.5 L590.1,689.8 L591.6,690.0 L593.0,689.8 L594.1,690.0 L595.3,689.5 L596.6,689.8 L597.9,689.5 L599.2,689.9 L600.5,689.9 L601.8,689.4 L603.1,689.5 L604.3,690.1 L605.5,689.2 L606.6,690.1 L607.6,689.8 L609.2,690.4 L610.8,690.7 L612.2,690.3 L613.5,690.7 L614.7,691.0 L615.7,691.3 L616.4,691.3" fill="none" stroke="#1e1e1e" stroke-width="1.8" stroke-linejoin="round"/>
<rect x="60.5" y="757.5" width="555.5" height="290.5" fill="#fff" stroke="#d6d6d6" stroke-width="1.2"/>
<text x="260.5" y="784.7" font-size="18.8" fill="#595959">HA <tspan font-size="11.6" dy="-6.6">13</tspan><tspan dy="6.6">C Distribution (%)</tspan></text>
<g stroke="#d9d9d9" stroke-width="1"><line x1="203.3" y1="804.6" x2="203.3" y2="1015.3"/><line x1="242.5" y1="804.6" x2="242.5" y2="1015.3"/><line x1="281.7" y1="804.6" x2="281.7" y2="1015.3"/><line x1="320.9" y1="804.6" x2="320.9" y2="1015.3"/><line x1="360.1" y1="804.6" x2="360.1" y2="1015.3"/><line x1="399.2" y1="804.6" x2="399.2" y2="1015.3"/><line x1="438.4" y1="804.6" x2="438.4" y2="1015.3"/><line x1="477.6" y1="804.6" x2="477.6" y2="1015.3"/><line x1="516.8" y1="804.6" x2="516.8" y2="1015.3"/><line x1="556.0" y1="804.6" x2="556.0" y2="1015.3"/><line x1="595.2" y1="804.6" x2="595.2" y2="1015.3"/></g>
<g fill="#4169b0"><rect x="203.5" y="814.2" width="110.8" height="10.2"/><rect x="203.5" y="844.9" width="84.2" height="10.2"/><rect x="203.5" y="874.7" width="375.0" height="10.2"/><rect x="203.5" y="904.6" width="35.1" height="10.2"/><rect x="203.5" y="934.9" width="35.1" height="10.2"/><rect x="203.5" y="964.6" width="28.0" height="10.2"/><rect x="203.5" y="994.9" width="111.2" height="10.2"/></g>
<g font-size="16" fill="#595959"><text x="189.4" y="824.1" text-anchor="end" xml:space="preserve">Carbonyl</text><text x="189.4" y="854.8" text-anchor="end" xml:space="preserve">Phenolic</text><text x="189.4" y="884.6" text-anchor="end" xml:space="preserve">Aromatic</text><text x="189.4" y="914.5" text-anchor="end" xml:space="preserve">Di-O-Alkyl or </text><text x="189.4" y="944.8" text-anchor="end" xml:space="preserve">O-Alkyl</text><text x="189.4" y="974.5" text-anchor="end" xml:space="preserve">N-Alkyl/Methoxyl</text><text x="189.4" y="1004.8" text-anchor="end" xml:space="preserve">Alkyl</text></g>
<g font-size="12" fill="#595959"><text x="203.3" y="1036.6" text-anchor="middle">0</text><text x="242.5" y="1036.6" text-anchor="middle">5</text><text x="281.7" y="1036.6" text-anchor="middle">10</text><text x="320.9" y="1036.6" text-anchor="middle">15</text><text x="360.1" y="1036.6" text-anchor="middle">20</text><text x="399.2" y="1036.6" text-anchor="middle">25</text><text x="438.4" y="1036.6" text-anchor="middle">30</text><text x="477.6" y="1036.6" text-anchor="middle">35</text><text x="516.8" y="1036.6" text-anchor="middle">40</text><text x="556.0" y="1036.6" text-anchor="middle">45</text><text x="595.2" y="1036.6" text-anchor="middle">50</text></g>
</svg></body></html>
